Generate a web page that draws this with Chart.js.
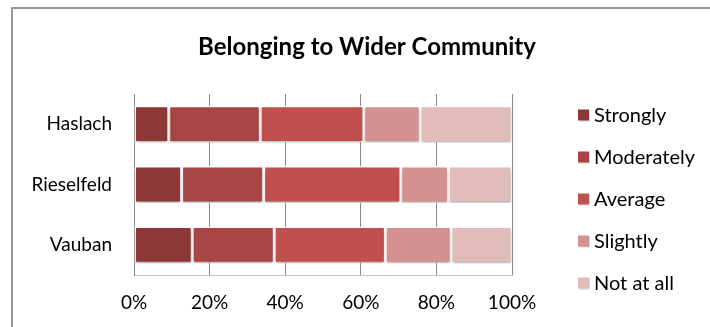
<!DOCTYPE html>
<html>
<head>
<meta charset="utf-8">
<script src="https://cdn.jsdelivr.net/npm/chart.js@4.4.0/dist/chart.umd.min.js"></script>
<style>
  html, body { margin: 0; padding: 0; background: #fff; }
  #wrap { position: relative; width: 710px; height: 327px; overflow: hidden; }
  #frame { position: absolute; left: 11px; top: 7px; width: 740px; height: 360px; border: 2px solid #969696; box-sizing: border-box; }
  canvas { position: absolute; left: 0; top: 0; }
</style>
</head>
<body>
<div id="wrap">
  <div id="frame"></div>
  <canvas id="chart" width="710" height="327"></canvas>
</div>
<script>
// Data (percent of respondents)
const chartTitle = 'Belonging to Wider Community';
const places = ['Haslach', 'Rieselfeld', 'Vauban'];
const levels = ['Strongly', 'Moderately', 'Average', 'Slightly', 'Not at all'];
const strongly = [9.2, 12.6, 15.4];
const moderately = [24.2, 21.7, 21.7];
const average = [27.4, 36.3, 29.4];
const slightly = [14.9, 12.6, 17.4];
const notAtAll = [24.3, 16.8, 16.1];
const xTicks = [0, 20, 40, 60, 80, 100];
const colors = ['#8c3836', '#a84544', '#c0504d', '#d39190', '#e2bbbb'];

const FONT = 'Lato, "Open Sans", sans-serif';

const seriesValues = [strongly, moderately, average, slightly, notAtAll];
const datasets = levels.map((name, i) => ({
    label: name,
    data: seriesValues[i],
    backgroundColor: colors[i],
    borderColor: '#ffffff',
    borderWidth: 1.5,
    borderSkipped: false,
    categoryPercentage: 1,
    barPercentage: 0.61
}));

// soft drop shadow under the bars, like the original
const barShadow = {
    id: 'barShadow',
    beforeDatasetsDraw(chart) {
        const ctx = chart.ctx;
        ctx.save();
        ctx.shadowColor = 'rgba(0,0,0,0.28)';
        ctx.shadowOffsetX = 0;
        ctx.shadowOffsetY = 3;
        ctx.shadowBlur = 3;
    },
    afterDatasetsDraw(chart) {
        chart.ctx.restore();
    }
};

// title + legend drawn at the positions of the reference
const sideText = {
    id: 'sideText',
    afterDraw(chart) {
        const ctx = chart.ctx;
        ctx.save();
        ctx.fillStyle = '#000';
        ctx.textBaseline = 'middle';
        ctx.textAlign = 'center';
        ctx.font = 'bold 24px ' + FONT;
        ctx.fillText(chartTitle, 367, 47);

        ctx.textAlign = 'left';
        ctx.font = '20px ' + FONT;
        chart.data.datasets.forEach((ds, i) => {
            const y = 115 + i * 42;
            ctx.fillStyle = 'rgba(0,0,0,0.15)';
            ctx.fillRect(579, y - 4.5, 11, 11);
            ctx.fillStyle = ds.backgroundColor;
            ctx.fillRect(578, y - 5.5, 11, 11);
            ctx.fillStyle = '#000';
            ctx.fillText(ds.label, 594, y + 1);
        });
        ctx.restore();
    }
};

new Chart(document.getElementById('chart'), {
    type: 'bar',
    data: { labels: places, datasets: datasets },
    options: {
        indexAxis: 'y',
        responsive: false,
        animation: false,
        devicePixelRatio: 1,
        layout: { padding: { left: 0, right: 198, top: 94, bottom: 0 } },
        plugins: {
            legend: { display: false },
            title: { display: false },
            tooltip: { enabled: false }
        },
        scales: {
            x: {
                stacked: true,
                min: 0,
                max: 100,
                afterBuildTicks: (scale) => { scale.ticks = xTicks.map(v => ({ value: v })); },
                afterFit: (scale) => { scale.height = 52; },
                grid: { color: '#878787', lineWidth: 1, drawTicks: false },
                border: { display: true, color: '#c4c4c4' },
                ticks: {
                    padding: 16,
                    color: '#000',
                    font: { family: FONT, size: 19 },
                    callback: (v) => v + '%'
                }
            },
            y: {
                stacked: true,
                afterFit: (scale) => { scale.width = 134; },
                grid: { display: false, drawTicks: false },
                border: { display: true, color: '#878787' },
                ticks: {
                    padding: 22,
                    color: '#000',
                    font: { family: FONT, size: 19 }
                }
            }
        }
    },
    plugins: [barShadow, sideText]
});
</script>
</body>
</html>
